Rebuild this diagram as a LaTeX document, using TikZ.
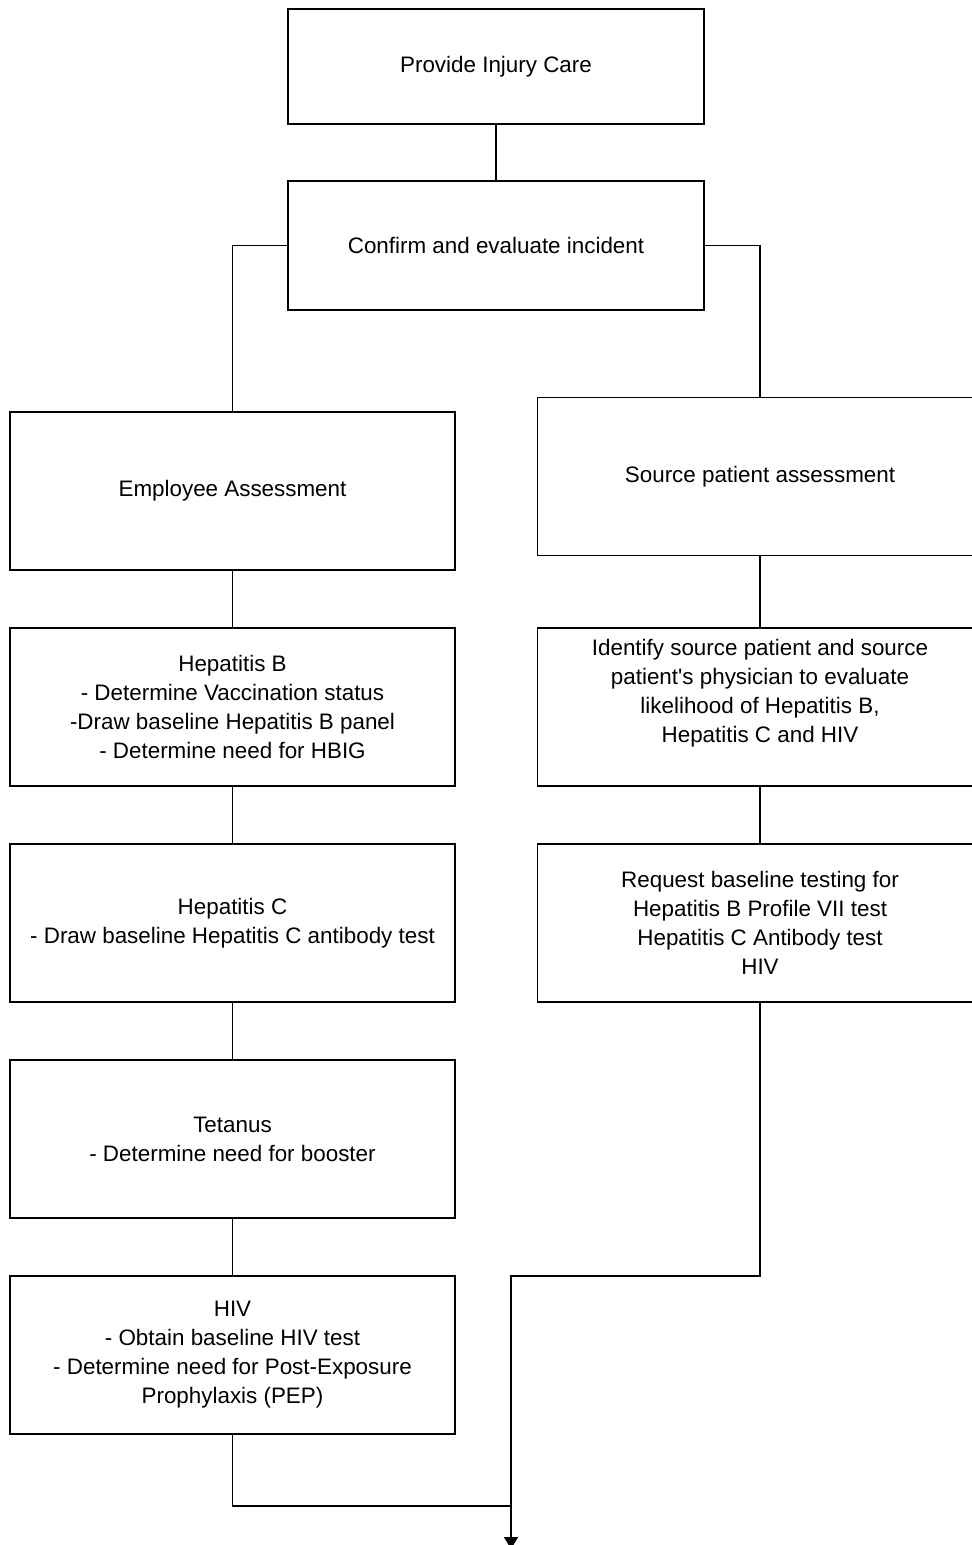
\documentclass[tikz,border=0pt]{standalone}
\usepackage{fontspec}
\setmainfont{Liberation Sans}
\usetikzlibrary{arrows.meta,positioning}

\begin{document}
\begin{tikzpicture}[x=0.5pt,y=-0.5pt,
  box/.style={draw,line width=0.8pt,align=center,inner sep=0pt,
    font=\fontsize{11.2pt}{14.5pt}\selectfont},
  wide/.style={box,minimum width=222.5pt,minimum height=79pt},
  top/.style={box,minimum width=208pt},
  link/.style={line width=0.8pt}]
\useasboundingbox (0,0) rectangle (972,1545);
% top of the chart
\node[top,minimum height=57.5pt] (care) at (496,66.5) {Provide Injury Care};
\node[top,minimum height=64.5pt] (confirm) at (496,245.5) {Confirm and evaluate incident};
% employee column
\node[wide] (employee) at (232.5,491) {Employee Assessment};
\node[wide] (hepb) at (232.5,707) {Hepatitis B\\- Determine Vaccination status\\-Draw baseline Hepatitis B panel\\- Determine need for HBIG};
\node[wide] (hepc) at (232.5,923) {Hepatitis C\\- Draw baseline Hepatitis C antibody test};
\node[wide] (tetanus) at (232.5,1139) {Tetanus\\- Determine need for booster};
\node[wide] (hiv) at (232.5,1355) {HIV\\- Obtain baseline HIV test\\- Determine need for Post-Exposure\\Prophylaxis (PEP)};
% source patient column
\node[wide] (source) at (760,476.5) {Source patient assessment};
\node[wide] (identify) at (760,707) {};
\node[align=center,font=\fontsize{11.2pt}{14.5pt}\selectfont] (identifytext) at (760,693.5)
  {Identify source patient and source\\patient\textquotesingle s physician to evaluate\\likelihood of Hepatitis B,\\Hepatitis C and HIV};
\node[wide] (request) at (760,923) {Request baseline testing for\\Hepatitis B Profile VII test\\Hepatitis C Antibody test\\HIV};
\coordinate (merge) at (511,1276);
\coordinate (join) at (511,1506);
\coordinate (outlet) at (511,1549);
% connectors
\draw[link] (care) -- (confirm);
\draw[link] (confirm.west) -| (employee.north);
\draw[link] (confirm.east) -| (source.north);
\draw[link] (employee) -- (hepb);
\draw[link] (hepb) -- (hepc);
\draw[link] (hepc) -- (tetanus);
\draw[link] (tetanus) -- (hiv);
\draw[link] (source) -- (identify);
\draw[link] (identify) -- (request);
\draw[link,-{Triangle[width=7pt,length=6pt]}] (request.south) |- (merge) -- (outlet);
\draw[link] (hiv.south) |- (join);
\end{tikzpicture}
\end{document}
